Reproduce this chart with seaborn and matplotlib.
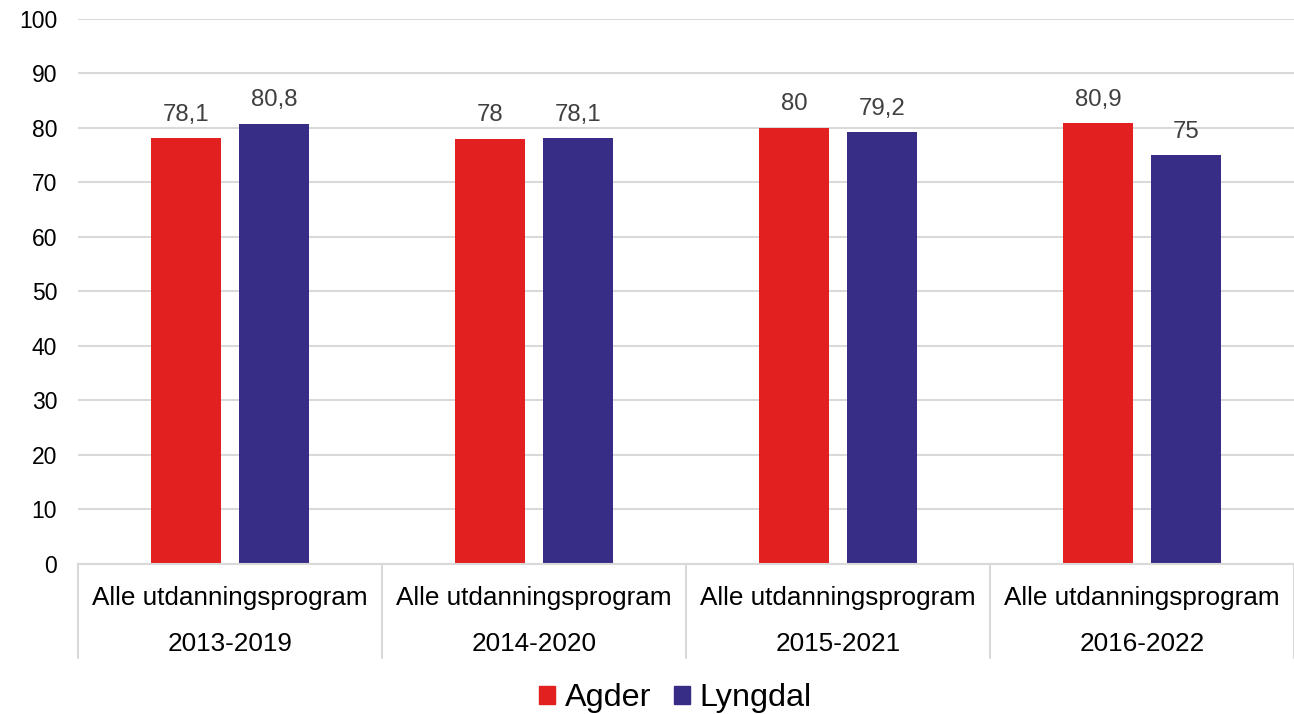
import matplotlib
matplotlib.use("Agg")
import matplotlib.pyplot as plt
import matplotlib.transforms as mtransforms
import pandas as pd
import seaborn as sns

# Chart data
periods = ["2013-2019", "2014-2020", "2015-2021", "2016-2022"]
program = "Alle utdanningsprogram"
agder = [78.1, 78.0, 80.0, 80.9]
lyngdal = [80.8, 78.1, 79.2, 75.0]
series = ["Agder", "Lyngdal"]
colors = ["#E1201F", "#382D86"]
y_ticks = [0, 10, 20, 30, 40, 50, 60, 70, 80, 90, 100]

df = pd.DataFrame({
    "period": periods * 2,
    "value": agder + lyngdal,
    "series": [series[0]] * len(periods) + [series[1]] * len(periods),
})

sns.set_theme(style="white")
plt.rcParams["font.family"] = ["Liberation Sans", "DejaVu Sans"]

fig = plt.figure(figsize=(12.94, 7.14), dpi=100)
ax = fig.add_axes([0.0603, 0.2101, 0.9397, 0.7633])

sns.barplot(data=df, x="period", y="value", hue="series", palette=colors,
            width=0.58, gap=0.21, ax=ax, legend=False, saturation=1,
            linewidth=0)

# value labels with comma decimals
for cont in ax.containers:
    vals = [b.get_height() for b in cont]
    labels = [f"{v:g}".replace(".", ",") for v in vals]
    ax.bar_label(cont, labels=labels, padding=9, fontsize=17.3, color="#404040")

ax.set_ylim(0, 100)
ax.set_xlim(-0.5, len(periods) - 0.5)
ax.set_yticks(y_ticks)
ax.tick_params(axis="y", labelsize=16.5, length=0, pad=15, colors="#000000")
ax.yaxis.grid(True, color="#D9D9D9", linewidth=1.5)
ax.set_axisbelow(True)
for s in ["left", "right", "top"]:
    ax.spines[s].set_visible(False)
ax.spines["bottom"].set_color("#D9D9D9")
ax.spines["bottom"].set_linewidth(1.5)
ax.set_xticks([])
ax.set_xlabel("")
ax.set_ylabel("")

# two-level category axis
trans = mtransforms.blended_transform_factory(ax.transData, ax.transAxes)
for i, p in enumerate(periods):
    ax.text(i, -0.062, program, transform=trans, ha="center", va="center",
            fontsize=18.8, color="#000000")
    ax.text(i, -0.146, p, transform=trans, ha="center", va="center",
            fontsize=18.8, color="#000000")
for x in [i - 0.5 for i in range(len(periods) + 1)]:
    ax.plot([x, x], [0, -0.1725], transform=trans, color="#D9D9D9",
            linewidth=1.5, clip_on=False)

handles = [plt.Rectangle((0, 0), 1, 1, color=c) for c in colors]
fig.legend(handles, series, loc="center", bbox_to_anchor=(0.522, 0.022),
           ncol=2, frameon=False, fontsize=23.3, labelcolor="#000000",
           handlelength=0.49, handleheight=0.49, handletextpad=0.3,
           columnspacing=0.7)

fig.savefig("out.png", dpi=100)
